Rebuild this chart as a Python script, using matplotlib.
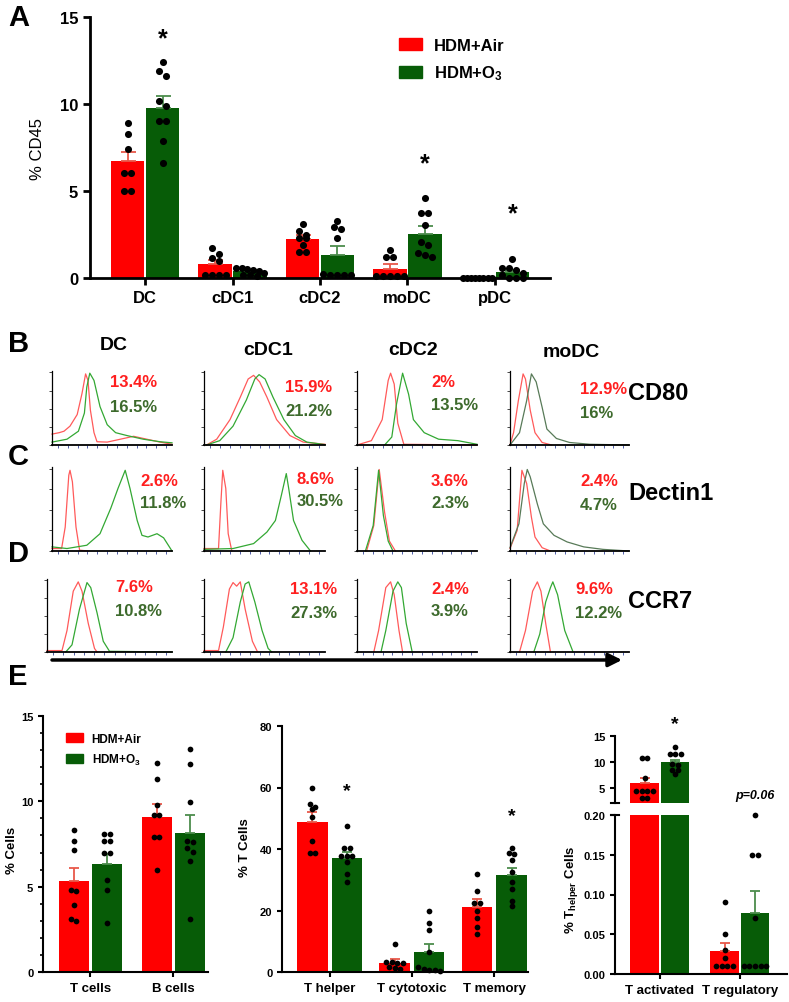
import numpy as np
import matplotlib.pyplot as plt
from matplotlib.patches import Patch
from matplotlib.ticker import MultipleLocator

plt.rcParams['font.family'] = ['Liberation Sans', 'DejaVu Sans']
plt.rcParams['mathtext.default'] = 'regular'

RED = '#ff0000'
GREEN = '#075c07'
RED_ERR = '#e8584a'
GREEN_ERR = '#4c8c4c'
TXT_RED = '#ff1f1f'
TXT_GREEN = '#3d6a2c'
H_RED = '#ff5a5a'
H_GREEN = '#33a833'
H_GREY = '#587a58'

# ---------------- panel A data ----------------
a_groups = ['DC', 'cDC1', 'cDC2', 'moDC', 'pDC']
a_air_mean = [6.7, 0.79, 2.26, 0.54, 0.0]
a_air_sem = [0.52, 0.26, 0.23, 0.25, 0.0]
a_o3_mean = [9.77, 0.38, 1.34, 2.55, 0.34]
a_o3_sem = [0.67, 0.06, 0.5, 0.42, 0.1]
a_air_pts = [[8.9, 8.3, 7.4, 6.05, 6.05, 5.0, 5.0],
             [1.7, 1.4, 1.15, 1.0, 0.2, 0.15, 0.15, 0.15],
             [3.1, 2.7, 2.5, 2.3, 2.3, 1.9, 1.5, 1.5],
             [1.6, 1.2, 1.2, 0.1, 0.1, 0.1, 0.1, 0.1],
             [0, 0, 0, 0, 0, 0, 0, 0]]
a_o3_pts = [[12.4, 11.9, 11.6, 10.2, 9.9, 9.0, 9.0, 7.85, 6.6],
            [0.6, 0.55, 0.5, 0.45, 0.4, 0.3, 0.2, 0.15, 0.1],
            [3.3, 2.95, 2.8, 2.3, 0.25, 0.2, 0.2, 0.2, 0.2],
            [4.6, 3.75, 3.75, 3.05, 2.05, 1.9, 1.45, 1.3, 1.2],
            [1.1, 0.57, 0.57, 0.44, 0.31, 0.15, 0.02, 0.02, 0.02]]
a_star = [13.8, None, None, 6.6, 3.7]

# ---------------- histogram data (B-D), box-normalised ----------------
populations = ['DC', 'cDC1', 'cDC2', 'moDC']
markers = ['CD80', 'Dectin1', 'CCR7']

cd80_air = [
    [(0, .15), (.06, .17), (.10, .19), (.15, .26), (.21, .42), (.25, .71), (.28, .98), (.30, .89), (.32, .48),
     (.35, .17), (.375, .045), (.46, .04), (.57, .08), (.68, .12), (.79, .08), (.90, .04), (1, .01)],
    [(.02, 0), (.105, .08), (.215, .35), (.30, .66), (.365, .91), (.41, .96), (.46, .87), (.52, .66), (.60, .35),
     (.71, .13), (.82, .04), (1, .01)],
    [(.02, .01), (.12, .06), (.21, .35), (.26, .89), (.28, .99), (.31, .84), (.34, .30), (.39, .01), (1, 0)],
    [(0, 0), (.03, .17), (.07, .61), (.11, .98), (.13, .91), (.17, .48), (.21, .17), (.27, .035), (.35, 0)]]
cd80_o3 = [
    [(0, .04), (.125, .08), (.22, .19), (.27, .44), (.29, .80), (.315, .99), (.35, .89), (.40, .53), (.46, .28),
     (.53, .17), (.625, .13), (.76, .08), (.90, .045), (1, .03)],
    [(.02, 0), (.13, .06), (.24, .26), (.35, .62), (.42, .91), (.455, .97), (.505, .91), (.57, .66), (.66, .35),
     (.755, .13), (.85, .04), (1, .005)],
    [(.23, 0), (.29, .11), (.33, .57), (.38, .99), (.43, .70), (.47, .35), (.56, .17), (.68, .08), (.84, .06), (1, .01)],
    [(0, 0), (.08, .17), (.14, .61), (.18, .98), (.22, .87), (.27, .52), (.31, .22), (.39, .09), (.50, .035),
     (.67, .01), (1, 0)]]

dectin_air = [
    [(0, .03), (.08, .03), (.11, .29), (.14, .92), (.15, .98), (.17, .84), (.20, .29), (.23, .01), (.3, 0)],
    [(0, .03), (.12, .03), (.14, .60), (.155, .98), (.18, .76), (.20, .21), (.23, 0)],
    [(.08, 0), (.14, .31), (.185, .99), (.23, .47), (.27, .12), (.32, 0)],
    [(0, .03), (.06, .25), (.10, .98), (.14, .82), (.18, .41), (.21, .17), (.27, .04), (.34, 0)]]
dectin_o3 = [
    [(0, .05), (.125, .03), (.29, .07), (.40, .21), (.49, .52), (.55, .76), (.61, .98), (.65, .76), (.71, .37),
     (.75, .19), (.80, .17), (.875, .21), (.93, .16), (1, 0)],
    [(0, .02), (.24, .03), (.41, .09), (.52, .23), (.59, .37), (.64, .68), (.68, .94), (.70, .76), (.74, .37),
     (.81, .13), (.88, 0)],
    [(.07, 0), (.135, .31), (.18, .98), (.22, .43), (.26, .12), (.30, 0)],
    [(0, .04), (.075, .33), (.12, .82), (.145, .99), (.17, .90), (.23, .57), (.28, .33), (.37, .19), (.48, .11),
     (.62, .05), (.78, .02), (1, 0)]]

ccr7_air = [
    [(0, .02), (.12, .02), (.16, .30), (.21, .85), (.25, .98), (.28, .85), (.33, .40), (.38, .05), (.40, 0)],
    [(0, .02), (.12, .02), (.16, .35), (.21, .88), (.24, .97), (.27, .92), (.30, .98), (.34, .60), (.40, .15),
     (.44, .01)],
    [(.14, 0), (.18, .30), (.24, .90), (.28, .98), (.31, .80), (.35, .30), (.38, 0)],
    [(.08, 0), (.13, .30), (.19, .85), (.23, .98), (.26, .85), (.30, .40), (.34, 0)]]
ccr7_o3 = [
    [(.15, 0), (.20, .10), (.26, .60), (.32, .97), (.35, .90), (.40, .55), (.45, .15), (.50, .01), (1, 0)],
    [(.18, 0), (.24, .20), (.30, .70), (.34, .95), (.37, .98), (.42, .70), (.48, .30), (.53, .05), (.56, 0)],
    [(.20, 0), (.24, .30), (.30, .85), (.34, .98), (.37, .90), (.41, .40), (.46, 0)],
    [(.20, 0), (.25, .25), (.30, .70), (.34, .90), (.36, .98), (.40, .80), (.46, .30), (.53, 0)]]

cd80_air_pct = ['13.4%', '15.9%', '2%', '12.9%']
cd80_o3_pct = ['16.5%', '21.2%', '13.5%', '16%']
dectin_air_pct = ['2.6%', '8.6%', '3.6%', '2.4%']
dectin_o3_pct = ['11.8%', '30.5%', '2.3%', '4.7%']
ccr7_air_pct = ['7.6%', '13.1%', '2.4%', '9.6%']
ccr7_o3_pct = ['10.8%', '27.3%', '3.9%', '12.2%']

# ---------------- panel E data ----------------
e1_groups = ['T cells', 'B cells']
e1_air_mean = [5.32, 9.07]
e1_air_sem = [0.75, 0.75]
e1_o3_mean = [6.32, 8.16]
e1_o3_sem = [0.58, 1.04]
e1_air_pts = [[8.3, 7.7, 7.15, 4.82, 4.76, 3.93, 3.0, 3.08],
              [12.25, 11.3, 9.8, 9.2, 9.2, 7.9, 7.9, 6.0]]
e1_o3_pts = [[8.1, 8.1, 7.7, 7.7, 7.0, 7.0, 5.4, 4.8, 2.9],
             [13.06, 12.19, 9.96, 7.7, 7.6, 7.25, 7.04, 6.5, 3.08]]

e2_groups = ['T helper', 'T cytotoxic', 'T memory']
e2_air_mean = [48.9, 2.9, 21.1]
e2_air_sem = [3.0, 1.2, 2.5]
e2_o3_mean = [37.1, 6.5, 31.6]
e2_o3_sem = [1.8, 2.7, 2.3]
e2_air_pts = [[59.7, 54.6, 53.8, 53.0, 50.3, 42.7, 38.7, 38.7],
              [9.2, 3.3, 3.2, 3.0, 2.8, 1.5, 1.3, 1.0],
              [31.8, 26.4, 22.5, 22.5, 19.8, 17.6, 14.6, 12.4]]
e2_o3_pts = [[47.6, 40.2, 40.2, 37.6, 37.6, 37.6, 35.7, 31.9, 29.2],
             [19.8, 16.0, 13.7, 6.5, 1.5, 1.0, 0.8, 0.5, 0.3],
             [40.2, 38.7, 38.5, 36.5, 32.6, 29.4, 27.0, 23.2, 21.4]]
e2_star = [59.0, None, 51.0]

e3_groups = ['T activated', 'T regulatory']
e3_air_mean = [5.95, 0.0285]
e3_air_sem = [1.0, 0.0105]
e3_o3_mean = [9.94, 0.0763]
e3_o3_sem = [0.45, 0.0277]
e3_air_pts = [[10.7, 10.7, 7.0, 4.4, 4.4, 4.4, 4.4, 3.0, 3.0],
              [0.09, 0.05, 0.03, 0.02, 0.01, 0.01, 0.01, 0.01]]
e3_o3_pts = [[12.8, 11.5, 11.5, 11.5, 9.6, 9.4, 8.5, 8.5, 7.6],
             [0.2, 0.15, 0.15, 0.07, 0.01, 0.01, 0.01, 0.01, 0.01]]

W, H = 789, 1003
fig = plt.figure(figsize=(W / 100, H / 100), dpi=100)


def px_axes(l, t, r, b):
    return fig.add_axes([l / W, 1 - b / H, (r - l) / W, (b - t) / H])


def swarm_x(ax, xc, vals, diam, half):
    # spread dots with similar values sideways (pixel based rows)
    pos = ax.get_position()
    x0, x1 = ax.get_xlim()
    y0, y1 = ax.get_ylim()
    sx = (x1 - x0) / (pos.width * W)
    sy = (y1 - y0) / (pos.height * H)
    vals = np.asarray(vals, float)
    xs = np.full(len(vals), float(xc))
    rows = []
    for i in np.argsort(-vals, kind='stable'):
        if rows and abs(vals[rows[-1][0]] - vals[i]) / sy < diam * 0.8:
            rows[-1].append(i)
        else:
            rows.append([i])
    for r in rows:
        m = len(r)
        step = diam * sx
        if m > 1:
            step = min(step, 2 * half * 0.85 / (m - 1))
        for j, i in enumerate(r):
            xs[i] = xc + (j - (m - 1) / 2) * step
    return xs


def draw_bars(ax, n, air_m, air_s, o3_m, o3_s, air_pts, o3_pts, off, width, cap, dot_s, dot_px, clip=False):
    x = np.arange(n)
    z = np.zeros(n)
    ax.bar(x - off, air_m, width, color=RED, zorder=2)
    ax.bar(x + off, o3_m, width, color=GREEN, zorder=2)
    ax.errorbar(x - off, air_m, yerr=[z, air_s], fmt='none', ecolor=RED_ERR, elinewidth=1.3,
                capsize=cap, capthick=1.3, zorder=3)
    ax.errorbar(x + off, o3_m, yerr=[z, o3_s], fmt='none', ecolor=GREEN_ERR, elinewidth=1.3,
                capsize=cap, capthick=1.3, zorder=3)
    lo, hi = ax.get_ylim()
    for i in range(n):
        for xc, vals in ((x[i] - off, air_pts[i]), (x[i] + off, o3_pts[i])):
            vals = np.asarray(vals, float)
            if clip:
                # broken axis: only the points that belong to this part
                vals = vals[(vals >= lo) & (vals <= hi * 1.001)]
                if len(vals) == 0:
                    continue
            xs = swarm_x(ax, xc, vals, dot_px, width / 2)
            ax.scatter(xs, vals, s=dot_s, color='black', linewidths=0, zorder=4, clip_on=False)


def style_axis(ax, lw, tick_len, labelsize, xlabelsize):
    for s in ('top', 'right'):
        ax.spines[s].set_visible(False)
    for s in ('left', 'bottom'):
        ax.spines[s].set_linewidth(lw)
    ax.tick_params(axis='both', which='major', direction='out', length=tick_len, width=lw, labelsize=labelsize)
    ax.tick_params(axis='x', labelsize=xlabelsize)
    for lbl in ax.get_xticklabels() + ax.get_yticklabels():
        lbl.set_fontweight('bold')


# ---------------- panel A ----------------
axA = px_axes(90, 18, 550, 279)
axA.set_xlim(-0.63, 4.63)
axA.set_ylim(0, 15)
axA.set_yticks([0, 5, 10, 15])
axA.set_xticks(np.arange(len(a_groups)))
axA.set_xticklabels(a_groups)
draw_bars(axA, len(a_groups), a_air_mean, a_air_sem, a_o3_mean, a_o3_sem, a_air_pts, a_o3_pts,
          0.2, 0.38, 5.4, 26, 7)
style_axis(axA, 2.0, 5, 12, 12)
axA.set_ylabel('% CD45', fontsize=12)
axA.yaxis.set_label_coords(-0.098, 0.5)
for i, v in enumerate(a_star):
    if v is not None:
        axA.text(i + 0.2, v, '*', ha='center', va='center', fontsize=18, fontweight='bold')
axA.legend(handles=[Patch(color=RED, label='HDM+Air'), Patch(color=GREEN, label='HDM+O$_3$')],
           loc='upper left', bbox_to_anchor=(392 / W, 1 - 32 / H), bbox_transform=fig.transFigure,
           frameon=False, prop={'weight': 'bold', 'size': 12}, handlelength=1.4, handleheight=0.75,
           labelspacing=0.65, handletextpad=0.7, borderaxespad=0)

# ---------------- panels B-D ----------------
col_x = [(52, 172), (204, 325), (357, 477), (510, 629)]
row_y = [(372, 446), (468, 552), (580, 653)]
row_curves = [(cd80_air, cd80_o3), (dectin_air, dectin_o3), (ccr7_air, ccr7_o3)]
for r, (air_c, o3_c) in enumerate(row_curves):
    t, b = row_y[r]
    for c in range(len(populations)):
        l, rr = col_x[c]
        if r == 2 and c == 0:
            l = 47
        ax = px_axes(l, t, rr, b)
        ax.set_xlim(0, 1)
        ax.set_ylim(0, 1.02)
        gcol = H_GREY if (c == 3 and r < 2) else H_GREEN
        for pts, col in ((air_c[c], H_RED), (o3_c[c], gcol)):
            xs, ys = zip(*pts)
            ax.plot(xs, ys, color=col, lw=0.9, clip_on=False)
        for s in ('top', 'right'):
            ax.spines[s].set_visible(False)
        ax.spines['left'].set_linewidth(0.9)
        ax.spines['bottom'].set_linewidth(1.3)
        ax.set_yticks(np.linspace(0, 1, 5))
        ax.set_xticks(np.linspace(0.05, 0.95, 12))
        ax.tick_params(axis='y', length=2, width=0.5, labelleft=False)
        ax.tick_params(axis='x', length=2, width=0.6, color='#33449a', labelbottom=False)

# ---------------- panel E ----------------
axE1 = px_axes(43, 717, 208, 973)
axE1.set_xlim(-0.57, 1.42)
axE1.set_ylim(0, 15)
axE1.set_yticks([0, 5, 10, 15])
axE1.yaxis.set_minor_locator(MultipleLocator(1))
axE1.set_xticks(np.arange(len(e1_groups)))
axE1.set_xticklabels(e1_groups)
draw_bars(axE1, len(e1_groups), e1_air_mean, e1_air_sem, e1_o3_mean, e1_o3_sem, e1_air_pts, e1_o3_pts,
          0.2, 0.36, 3.6, 17, 5.5)
style_axis(axE1, 1.5, 3.5, 8, 9.5)
axE1.tick_params(axis='y', which='minor', length=2.2, width=1.2)
axE1.set_ylabel('% Cells', fontsize=9.5, fontweight='bold')
axE1.yaxis.set_label_coords(-0.15, 0.48)
axE1.legend(handles=[Patch(color=RED, label='HDM+Air'), Patch(color=GREEN, label='HDM+O$_3$')],
            loc='upper left', bbox_to_anchor=(61 / W, 1 - 729 / H), bbox_transform=fig.transFigure,
            frameon=False, prop={'weight': 'bold', 'size': 8.5}, handlelength=1.5, handleheight=0.8,
            labelspacing=0.6, handletextpad=0.7, borderaxespad=0)

axE2 = px_axes(282, 727, 528, 973)
axE2.set_xlim(-0.58, 2.41)
axE2.set_ylim(0, 80)
axE2.set_yticks([0, 20, 40, 60, 80])
axE2.set_xticks(np.arange(len(e2_groups)))
axE2.set_xticklabels(e2_groups)
draw_bars(axE2, len(e2_groups), e2_air_mean, e2_air_sem, e2_o3_mean, e2_o3_sem, e2_air_pts, e2_o3_pts,
          0.21, 0.37, 3.6, 17, 5.5)
style_axis(axE2, 1.5, 3.5, 8, 9.5)
axE2.set_ylabel('% T Cells', fontsize=9.5, fontweight='bold')
axE2.yaxis.set_label_coords(-0.125, 0.51)
for i, v in enumerate(e2_star):
    if v is not None:
        axE2.text(i + 0.21, v, '*', ha='center', va='center', fontsize=14, fontweight='bold')

axE3u = px_axes(615, 737, 787, 804)
axE3l = px_axes(615, 816, 787, 975)
for ax in (axE3u, axE3l):
    ax.set_xlim(-0.56, 1.59)
axE3u.set_ylim(2.1, 15)
axE3l.set_ylim(0, 0.2)
axE3u.set_yticks([5, 10, 15])
axE3l.set_yticks([0, 0.05, 0.10, 0.15, 0.20])
axE3l.set_yticklabels(['0.00', '0.05', '0.10', '0.15', '0.20'])
axE3l.set_xticks(np.arange(len(e3_groups)))
axE3l.set_xticklabels(e3_groups)
axE3u.set_xticks([])
for ax in (axE3u, axE3l):
    draw_bars(ax, len(e3_groups), e3_air_mean, e3_air_sem, e3_o3_mean, e3_o3_sem, e3_air_pts, e3_o3_pts,
              0.19, 0.36, 3.6, 17, 5.5, clip=True)
    style_axis(ax, 1.5, 3.5, 8, 9.5)
axE3u.spines['bottom'].set_visible(False)
axE3u.plot([-0.025, 0.025], [0, 0], transform=axE3u.transAxes, color='black', lw=1.5, clip_on=False)
axE3l.plot([-0.025, 0.025], [1, 1], transform=axE3l.transAxes, color='black', lw=1.5, clip_on=False)
axE3u.text(0.19, 17.3, '*', ha='center', va='center', fontsize=14, fontweight='bold', clip_on=False)
axE3u.text(1.19, 3.6, 'p=0.06', ha='center', va='center', fontsize=9, fontweight='bold', style='italic',
           clip_on=False)

# ---------------- overlay texts ----------------
ov = fig.add_axes([0, 0, 1, 1])
ov.set_xlim(0, W)
ov.set_ylim(H, 0)
ov.axis('off')
for letter, y in (('A', 18), ('B', 344), ('C', 457), ('D', 554), ('E', 677)):
    ov.text(8, y, letter, fontsize=21, fontweight='bold', ha='left', va='center')
for name, xc, y in zip(populations, (114, 268, 413, 571), (345, 350, 350, 352)):
    ov.text(xc, y, name, fontsize=14, fontweight='bold', ha='center', va='center')
for name, y in zip(markers, (393, 493, 601)):
    ov.text(628, y, name, fontsize=17, fontweight='bold', ha='left', va='center')

pct_pos = [
    [(110, 382, 408), (285, 387, 411), (431, 382, 406), (580, 390, 414)],
    [(140, 481, 504), (297, 479, 502), (431, 481, 504), (580, 482, 505)],
    [(115, 587, 612), (290, 590, 614), (431, 589, 612), (575, 590, 614)]]
pct_text = [(cd80_air_pct, cd80_o3_pct), (dectin_air_pct, dectin_o3_pct), (ccr7_air_pct, ccr7_o3_pct)]
for r, (air_p, o3_p) in enumerate(pct_text):
    for c in range(len(populations)):
        x, ya, yo = pct_pos[r][c]
        ov.text(x, ya, air_p[c], color=TXT_RED, fontsize=12, fontweight='bold', ha='left', va='center')
        ov.text(x, yo, o3_p[c], color=TXT_GREEN, fontsize=12, fontweight='bold', ha='left', va='center')

ov.annotate('', xy=(622, 661), xytext=(52, 661),
            arrowprops=dict(arrowstyle='-|>', lw=2.5, color='black', mutation_scale=20, shrinkA=0, shrinkB=0))
fig.text(572 / W, 1 - 890 / H, '% T$_{helper}$ Cells', rotation=90, fontsize=9.5, fontweight='bold',
         ha='center', va='center')

fig.savefig('out.png', dpi=100)
